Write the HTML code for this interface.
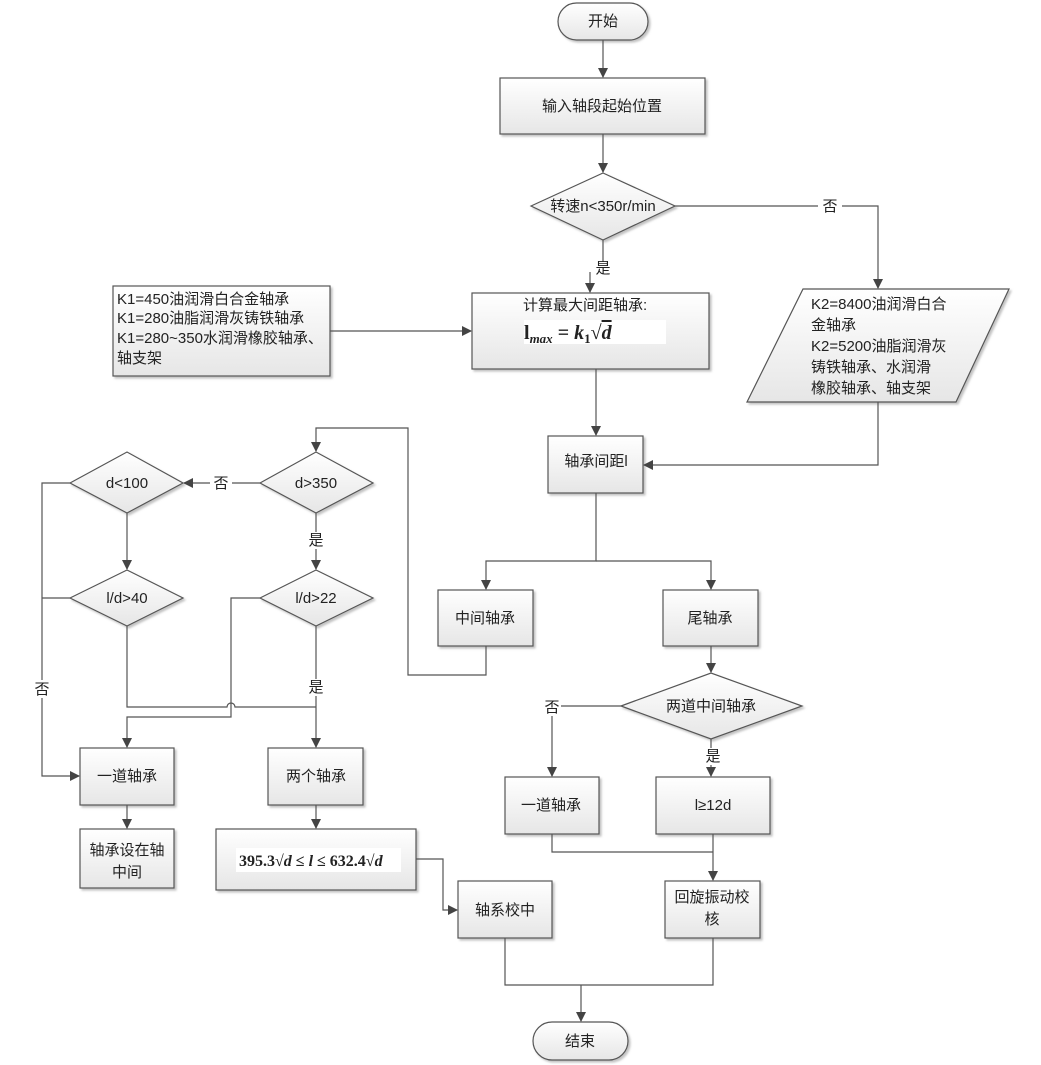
<!DOCTYPE html>
<html><head><meta charset="utf-8"><style>
html,body{margin:0;padding:0;background:#fff;}
svg{display:block;}
text{font-family:"Liberation Sans","Noto Sans CJK SC",sans-serif;font-size:15px;fill:#222;}
</style></head><body>
<svg width="1041" height="1065" viewBox="0 0 1041 1065" xmlns="http://www.w3.org/2000/svg">
<defs>
<linearGradient id="g" x1="0" y1="0" x2="0" y2="1"><stop offset="0" stop-color="#ffffff"/><stop offset="1" stop-color="#e6e6e6"/></linearGradient>
<marker id="a" markerWidth="10" markerHeight="10" refX="9" refY="5" orient="auto" markerUnits="userSpaceOnUse"><path d="M0,0 L10,5 L0,10 z" fill="#444"/></marker>
<filter id="s" x="-10%" y="-10%" width="130%" height="130%"><feDropShadow dx="2" dy="2" stdDeviation="1" flood-color="#999" flood-opacity="0.6"/></filter>
</defs>
<g fill="url(#g)" stroke="#555" stroke-width="1.2" filter="url(#s)">
<rect x="558" y="3" width="90" height="37" rx="18.5"/>
<rect x="500" y="78" width="205" height="56"/>
<polygon points="531,206 603,173 675,206 603,240"/>
<rect x="472" y="293" width="237" height="76"/>
<rect x="113" y="286" width="217" height="90"/>
<polygon points="803,289 1009,289 956,402 747,402"/>
<rect x="548" y="436" width="95" height="57"/>
<rect x="438" y="590" width="95" height="56"/>
<rect x="663" y="590" width="95" height="56"/>
<polygon points="260,483 316,452 373,483 316,513"/>
<polygon points="70,483 127,452 183,483 127,513"/>
<polygon points="260,598 316,570 373,598 316,626"/>
<polygon points="70,598 127,570 183,598 127,626"/>
<rect x="80" y="748" width="94" height="57"/>
<rect x="268" y="748" width="95" height="57"/>
<rect x="80" y="829" width="94" height="59"/>
<rect x="216" y="829" width="200" height="61"/>
<polygon points="621,706 711,673 802,706 711,739"/>
<rect x="505" y="777" width="94" height="57"/>
<rect x="656" y="777" width="114" height="57"/>
<rect x="458" y="881" width="94" height="57"/>
<rect x="665" y="881" width="95" height="57"/>
<rect x="533" y="1022" width="95" height="38" rx="19"/>
</g>
<rect x="524" y="320" width="142" height="24" fill="#fff"/>
<rect x="236" y="848" width="165" height="24" fill="#fff"/>
<g fill="none" stroke="#555" stroke-width="1.2">
<path d="M603,40 V77" marker-end="url(#a)"/>
<path d="M603,134 V172" marker-end="url(#a)"/>
<path d="M675,206 H878 V288" marker-end="url(#a)"/>
<path d="M603,240 V262 M590,272 V292" marker-end="url(#a)"/>
<path d="M330,331 H471" marker-end="url(#a)"/>
<path d="M596,369 V435" marker-end="url(#a)"/>
<path d="M878,402 V465 H644" marker-end="url(#a)"/>
<path d="M596,493 V561 H486 V589" marker-end="url(#a)"/>
<path d="M596,561 H711 V589" marker-end="url(#a)"/>
<path d="M486,646 V675 H408 V428 H316 V451" marker-end="url(#a)"/>
<path d="M260,483 H184" marker-end="url(#a)"/>
<path d="M316,513 V569" marker-end="url(#a)"/>
<path d="M127,513 V569" marker-end="url(#a)"/>
<path d="M70,483 H42 V776 H79" marker-end="url(#a)"/>
<path d="M70,598 H42"/>
<path d="M127,626 V707 H227 A4,4 0 0 1 235,707 H316"/>
<path d="M260,598 H231 V717 H127 V747" marker-end="url(#a)"/>
<path d="M316,626 V747" marker-end="url(#a)"/>
<path d="M127,805 V828" marker-end="url(#a)"/>
<path d="M316,805 V828" marker-end="url(#a)"/>
<path d="M416,859 H443 V910 H457" marker-end="url(#a)"/>
<path d="M711,646 V672" marker-end="url(#a)"/>
<path d="M621,706 H552 V776" marker-end="url(#a)"/>
<path d="M711,739 V776" marker-end="url(#a)"/>
<path d="M552,834 V852 H713"/>
<path d="M713,834 V880" marker-end="url(#a)"/>
<path d="M505,938 V985 H713 V938"/>
<path d="M581,985 V1021" marker-end="url(#a)"/>
</g>
<g text-anchor="middle">
<text x="603" y="26">开始</text>
<text x="602" y="111">输入轴段起始位置</text>
<text x="603" y="211">转速n&lt;350r/min</text>
<rect x="818" y="198" width="24" height="16" fill="#fff"/><text x="830" y="211">否</text>
<text x="603" y="273">是</text>
<text x="596" y="466">轴承间距l</text>
<text x="485" y="623">中间轴承</text>
<text x="710" y="623">尾轴承</text>
<text x="316" y="488">d&gt;350</text>
<text x="127" y="488">d&lt;100</text>
<rect x="210" y="475" width="22" height="16" fill="#fff"/><text x="221" y="488">否</text>
<text x="316" y="603">l/d&gt;22</text>
<text x="127" y="603">l/d&gt;40</text>
<rect x="307" y="532" width="18" height="17" fill="#fff"/><text x="316" y="545">是</text>
<rect x="307" y="679" width="18" height="17" fill="#fff"/><text x="316" y="692">是</text>
<rect x="33" y="680" width="18" height="18" fill="#fff"/><text x="42" y="694">否</text>
<text x="127" y="781">一道轴承</text>
<text x="316" y="781">两个轴承</text>
<text x="127" y="855">轴承设在轴</text>
<text x="127" y="877">中间</text>
<text x="711" y="711">两道中间轴承</text>
<rect x="543" y="699" width="18" height="17" fill="#fff"/><text x="552" y="712">否</text>
<rect x="704" y="748" width="18" height="17" fill="#fff"/><text x="713" y="761">是</text>
<text x="551" y="810">一道轴承</text>
<text x="713" y="810">l≥12d</text>
<text x="505" y="915">轴系校中</text>
<text x="712" y="902">回旋振动校</text>
<text x="712" y="924">核</text>
<text x="580" y="1046">结束</text>
</g>
<text x="523" y="310">计算最大间距轴承:</text>
<text x="524" y="339" style="font-family:'Liberation Serif',serif;font-size:20px;font-weight:bold">l<tspan font-size="13" font-style="italic" dy="4">max</tspan><tspan dy="-4"> = </tspan><tspan font-style="italic">k</tspan><tspan font-size="13" dy="4">1</tspan><tspan dy="-4">√</tspan><tspan font-style="italic" text-decoration="overline">d</tspan></text>
<text x="239" y="866" style="font-family:'Liberation Serif',serif;font-size:16px;font-weight:bold">395.3√<tspan font-style="italic">d</tspan> ≤ <tspan font-style="italic">l</tspan> ≤ 632.4√<tspan font-style="italic">d</tspan></text>
<g>
<text x="117" y="304">K1=450油润滑白合金轴承</text>
<text x="117" y="323">K1=280油脂润滑灰铸铁轴承</text>
<text x="117" y="343">K1=280~350水润滑橡胶轴承、</text>
<text x="117" y="363">轴支架</text>
<text x="811" y="309">K2=8400油润滑白合</text>
<text x="811" y="330">金轴承</text>
<text x="811" y="351">K2=5200油脂润滑灰</text>
<text x="811" y="372">铸铁轴承、水润滑</text>
<text x="811" y="393">橡胶轴承、轴支架</text>
</g>
</svg>
</body></html>
